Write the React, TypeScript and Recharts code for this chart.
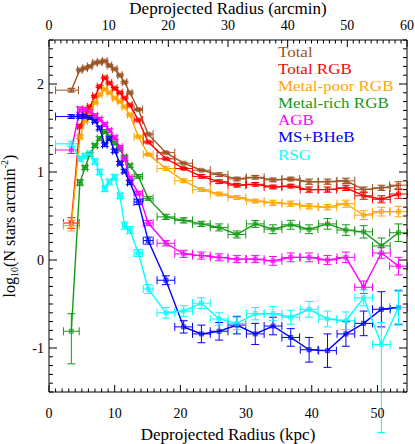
import React from "react"
import { ComposedChart, Scatter, XAxis, YAxis, ErrorBar, Legend } from "recharts"

// radial bins (kpc), shared by every population
const radiusKpc = [3.4, 4.7, 5.5, 6.2, 7.0, 7.7, 8.5, 9.2, 10.0, 10.8, 11.5, 12.3, 13.6, 15.1, 17.8, 20.5, 23.2, 25.9, 28.6, 31.4, 34.1, 36.8, 39.6, 42.4, 45.2, 47.9, 50.6, 53.2]
// half-width of each bin [left, right]
const radiusErr: [number, number][] = [
  [2.4, 1.1], [0.35, 0.35], [0.35, 0.35], [0.35, 0.35], [0.35, 0.35], [0.35, 0.35], [0.35, 0.35],
  [0.35, 0.35], [0.35, 0.35], [0.35, 0.35], [0.35, 0.35], [0.35, 0.35], [0.65, 0.65], [0.75, 0.75],
  [1.35, 1.35], [1.35, 1.35], [1.35, 1.35], [1.35, 1.35], [1.35, 1.35], [1.35, 1.35], [1.35, 1.35],
  [1.35, 1.35], [1.35, 1.35], [1.35, 1.35], [1.35, 1.35], [1.35, 1.35], [1.35, 1.35], [1.35, 1.35],
]
const rgbFirstBinErr: [number, number] = [1.2, 1.2]

const totalVals = [1.93, 2.16, 2.18, 2.2, 2.24, 2.25, 2.26, 2.21, 2.17, 2.1, 2.02, 1.9, 1.71, 1.43, 1.22, 1.1, 1.02, 0.97, 0.92, 0.94, 0.91, 0.92, 0.89, 0.89, 0.9, 0.8, 0.82, 0.85]
const totalErr = [0.02, 0.01, 0.01, 0.01, 0.01, 0.01, 0.01, 0.01, 0.01, 0.01, 0.01, 0.01, 0.01, 0.01, 0.01, 0.01, 0.01, 0.02, 0.02, 0.02, 0.02, 0.02, 0.03, 0.03, 0.03, 0.03, 0.03, 0.04]

const rgbVals = [0.42, 1.52, 1.65, 1.74, 1.86, 1.97, 2.07, 2.01, 1.95, 1.9, 1.84, 1.76, 1.59, 1.34, 1.15, 1.04, 0.95, 0.89, 0.85, 0.86, 0.83, 0.84, 0.8, 0.8, 0.82, 0.73, 0.69, 0.75]
const rgbErr = [0.06, 0.02, 0.01, 0.01, 0.01, 0.01, 0.01, 0.01, 0.01, 0.01, 0.01, 0.01, 0.01, 0.01, 0.01, 0.01, 0.02, 0.02, 0.02, 0.02, 0.02, 0.02, 0.03, 0.03, 0.03, 0.04, 0.04, 0.05]

const poorVals = [0.39, 1.4, 1.58, 1.68, 1.79, 1.88, 1.94, 1.9, 1.84, 1.8, 1.74, 1.65, 1.4, 1.2, 1.04, 0.9, 0.8, 0.75, 0.71, 0.67, 0.65, 0.64, 0.61, 0.6, 0.64, 0.51, 0.55, 0.55]
const poorErr = [0.06, 0.02, 0.01, 0.01, 0.01, 0.01, 0.01, 0.01, 0.01, 0.01, 0.01, 0.01, 0.01, 0.01, 0.02, 0.02, 0.02, 0.02, 0.02, 0.02, 0.03, 0.03, 0.03, 0.03, 0.04, 0.05, 0.05, 0.06]

const richVals = [-0.81, 0.88, 1.05, 1.2, 1.3, 1.38, 1.46, 1.4, 1.33, 1.26, 1.17, 1.07, 0.95, 0.7, 0.49, 0.45, 0.41, 0.37, 0.29, 0.41, 0.35, 0.4, 0.35, 0.41, 0.34, 0.32, 0.16, 0.31]
const richErr: (number | [number, number])[] = [[0.37, 0.2], 0.03, 0.02, 0.02, 0.02, 0.02, 0.02, 0.02, 0.02, 0.02, 0.02, 0.02, 0.02, 0.02, 0.03, 0.03, 0.03, 0.04, 0.04, 0.04, 0.05, 0.05, 0.05, 0.06, 0.06, 0.07, 0.09, 0.1]

const agbVals = [1.25, 1.71, 1.71, 1.69, 1.64, 1.6, 1.54, 1.47, 1.39, 1.28, 1.15, 0.93, 0.76, 0.42, 0.19, 0.07, 0.05, 0.03, 0.01, 0.01, -0.01, 0.03, 0.03, 0.0, 0.03, -0.31, 0.08, -0.07]
const agbErr = [0.04, 0.03, 0.02, 0.02, 0.02, 0.02, 0.02, 0.02, 0.02, 0.02, 0.02, 0.02, 0.02, 0.03, 0.03, 0.04, 0.04, 0.04, 0.04, 0.04, 0.05, 0.05, 0.05, 0.05, 0.06, 0.07, 0.06, 0.1]

const msVals = [1.63, 1.63, 1.63, 1.62, 1.58, 1.5, 1.31, 1.38, 1.24, 1.1, 1.01, 0.88, 0.66, 0.22, -0.23, -0.76, -0.84, -0.81, -0.74, -0.84, -0.75, -0.88, -1.02, -1.03, -0.84, -0.72, -0.56, -0.54]
const msErr = [0.02, 0.02, 0.02, 0.02, 0.02, 0.02, 0.02, 0.02, 0.02, 0.02, 0.02, 0.02, 0.03, 0.04, 0.05, 0.07, 0.1, 0.1, 0.1, 0.12, 0.1, 0.1, 0.14, 0.19, 0.14, 0.14, 0.2, 0.19]

const rsgVals = [1.32, 1.15, 1.18, 1.21, 1.12, 1.0, 0.81, 0.89, 0.94, 0.73, 0.39, 0.34, 0.08, -0.33, -0.6, -0.58, -0.49, -0.67, -0.72, -0.61, -0.61, -0.65, -0.56, -0.67, -0.69, -0.43, -0.96, -0.54]
const rsgErr: (number | [number, number])[] = [0.03, 0.03, 0.03, 0.03, 0.03, 0.03, 0.03, 0.03, 0.03, 0.03, 0.04, 0.04, 0.04, 0.05, 0.06, 0.06, 0.06, 0.07, 0.07, 0.07, 0.08, 0.08, 0.09, 0.09, 0.1, 0.09, [1.0, 0.25], 0.2]

const kpcLabels = [0, 10, 20, 30, 40, 50]
const arcminLabels = [0, 10, 20, 30, 40, 50, 60]
const logLabels = [-1, 0, 1, 2]

const kpcTicks = Array.from({ length: 55 }, (_, i) => i)
const arcminTicks = Array.from({ length: 61 }, (_, i) => i)
const logTicks = Array.from({ length: 41 }, (_, i) => (i - 15) / 10)

const serif = '"Liberation Serif", "Times New Roman", serif'

const series = [
  { name: "Total", color: "#9C5424", vals: totalVals, err: totalErr, first: radiusErr[0] },
  { name: "Total RGB", color: "#FF0000", vals: rgbVals, err: rgbErr, first: rgbFirstBinErr },
  { name: "Metal-poor RGB", color: "#FFA500", vals: poorVals, err: poorErr, first: rgbFirstBinErr },
  { name: "Metal-rich RGB", color: "#159A15", vals: richVals, err: richErr, first: rgbFirstBinErr },
  { name: "AGB", color: "#FF00FF", vals: agbVals, err: agbErr, first: radiusErr[0] },
  { name: "MS+BHeB", color: "#0000FF", vals: msVals, err: msErr, first: radiusErr[0] },
  { name: "RSG", color: "#00FFFF", vals: rsgVals, err: rsgErr, first: radiusErr[0] },
]

const BottomTick = (p: any) => {
  const v = p.payload.value
  const major = kpcLabels.includes(v)
  return (
    <g>
      <line x1={p.x} x2={p.x} y1={p.y} y2={p.y - (major ? 7 : 3.5)} stroke="#000" />
      {major && (
        <text x={p.x} y={p.y + 26} textAnchor="middle" fontSize={14} fontFamily={serif} fill="#000">
          {v}
        </text>
      )}
    </g>
  )
}

const TopTick = (p: any) => {
  const v = p.payload.value
  const major = arcminLabels.includes(v)
  return (
    <g>
      <line x1={p.x} x2={p.x} y1={p.y} y2={p.y + (major ? 7 : 3.5)} stroke="#000" />
      {major && (
        <text x={p.x} y={p.y - 10} textAnchor="middle" fontSize={14} fontFamily={serif} fill="#000">
          {v}
        </text>
      )}
    </g>
  )
}

const LeftTick = (p: any) => {
  const v = p.payload.value
  const major = logLabels.some((l) => Math.abs(l - v) < 1e-6)
  return (
    <g>
      <line x1={p.x} x2={p.x + (major ? 8 : 4)} y1={p.y} y2={p.y} stroke="#000" />
      {major && (
        <text x={p.x - 5} y={p.y + 5} textAnchor="end" fontSize={14} fontFamily={serif} fill="#000">
          {Math.round(v)}
        </text>
      )}
    </g>
  )
}

const RightTick = (p: any) => {
  const v = p.payload.value
  const major = logLabels.some((l) => Math.abs(l - v) < 1e-6)
  return <line x1={p.x} x2={p.x - (major ? 8 : 4)} y1={p.y} y2={p.y} stroke="#000" />
}

const squareMarker = (color: string) => (p: any) => {
  if (p.cx == null || p.cy == null) return <g />
  return (
    <rect
      x={p.cx - 2}
      y={p.cy - 2}
      width={4}
      height={4}
      fill={color}
      fillOpacity={0.4}
      stroke={color}
      strokeOpacity={0.7}
      strokeWidth={1}
    />
  )
}

// serif text is a little narrow next to the original, so it is stretched sideways
const LegendBox = () => (
  <div
    style={{
      fontFamily: serif,
      fontSize: 14.5,
      lineHeight: "17.1px",
      transform: "scaleX(1.17)",
      transformOrigin: "left top",
      whiteSpace: "nowrap",
    }}
  >
    {series.map((s) => (
      <div key={s.name} style={{ color: s.color }}>
        {s.name}
      </div>
    ))}
  </div>
)

// only there so the top and right axes get drawn
const anchorPoints = [{ r: 0, v: 0 }]

export default function App() {
  return (
    <div style={{ position: "absolute", left: 0, top: 0, width: 415, height: 444, background: "#fff" }}>
      <ComposedChart width={415} height={444} margin={{ top: 0, right: 0, bottom: 0, left: 0 }}>
        <XAxis
          xAxisId="kpc"
          dataKey="r"
          type="number"
          domain={[0, 54.5]}
          allowDataOverflow
          ticks={kpcTicks}
          interval={0}
          height={52}
          tickSize={0}
          tickMargin={0}
          tickLine={false}
          tick={BottomTick}
          axisLine={{ stroke: "#000" }}
        />
        <XAxis
          xAxisId="arcmin"
          dataKey="r"
          orientation="top"
          type="number"
          domain={[0, 60]}
          allowDataOverflow
          ticks={arcminTicks}
          interval={0}
          height={40}
          tickSize={0}
          tickMargin={0}
          tickLine={false}
          tick={TopTick}
          axisLine={{ stroke: "#000" }}
        />
        <YAxis
          yAxisId="log"
          dataKey="v"
          type="number"
          domain={[-1.5, 2.5]}
          allowDataOverflow
          ticks={logTicks}
          interval={0}
          width={49}
          tickSize={0}
          tickMargin={0}
          tickLine={false}
          tick={LeftTick}
          axisLine={{ stroke: "#000" }}
        />
        <YAxis
          yAxisId="right"
          dataKey="v"
          orientation="right"
          type="number"
          domain={[-1.5, 2.5]}
          allowDataOverflow
          ticks={logTicks}
          interval={0}
          width={8}
          tickSize={0}
          tickMargin={0}
          tickLine={false}
          tick={RightTick}
          axisLine={{ stroke: "#000" }}
        />
        <Legend
          layout="vertical"
          align="center"
          verticalAlign="middle"
          wrapperStyle={{ left: 278, top: 44, width: 120 }}
          content={LegendBox}
        />
        <Scatter
          xAxisId="arcmin"
          yAxisId="right"
          data={anchorPoints}
          shape={() => <g />}
          legendType="none"
          isAnimationActive={false}
        />
        {series.map((s) => (
          <Scatter
            key={s.name}
            name={s.name}
            xAxisId="kpc"
            yAxisId="log"
            data={radiusKpc.map((r, i) => ({
              r,
              v: s.vals[i],
              ex: i === 0 ? s.first : radiusErr[i],
              ey: s.err[i],
            }))}
            line={{ stroke: s.color, strokeWidth: 1.4 }}
            lineType="joint"
            fill={s.color}
            shape={squareMarker(s.color)}
            isAnimationActive={false}
          >
            <ErrorBar dataKey="ex" direction="x" width={4} stroke={s.color} strokeWidth={1} isAnimationActive={false} />
            <ErrorBar dataKey="ey" direction="y" width={4} stroke={s.color} strokeWidth={1} isAnimationActive={false} />
          </Scatter>
        ))}
      </ComposedChart>
      <svg
        width={415}
        height={444}
        style={{ position: "absolute", left: 0, top: 0, pointerEvents: "none" }}
        fontFamily={serif}
      >
        <text x={228} y={14} textAnchor="middle" fontSize={17} fill="#000">
          Deprojected Radius (arcmin)
        </text>
        <text x={228} y={440} textAnchor="middle" fontSize={17} fill="#000">
          Deprojected Radius (kpc)
        </text>
        <text transform="translate(15, 226) rotate(-90)" textAnchor="middle" fontSize={16} fill="#000">
          log<tspan fontSize={10} dy={3}>10</tspan>
          <tspan dy={-3}>(N stars arcmin</tspan>
          <tspan fontSize={10} dy={-7}>-2</tspan>
          <tspan dy={7}>)</tspan>
        </text>
      </svg>
    </div>
  )
}
